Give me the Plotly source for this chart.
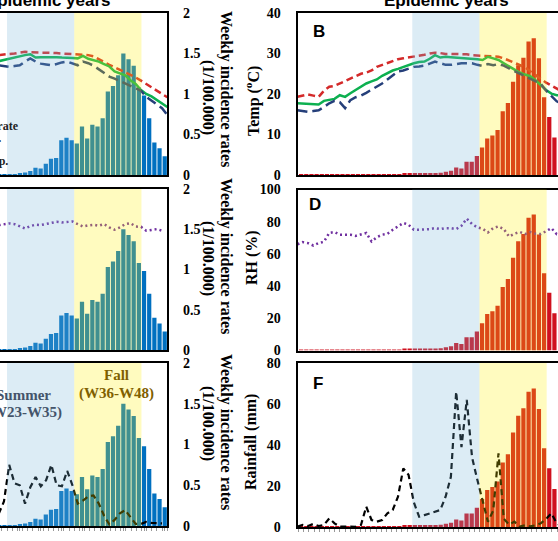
import plotly.graph_objects as go

W, H = 558, 541
SERIF = "Liberation Serif"
SANS = "Liberation Sans"

# ---------------- data ----------------
# Non-epidemic years (left column, visible weeks only)
weeks_left = list(range(21, 54))
inc_left = [0.01, 0.01, 0.01, 0.01, 0.02, 0.03, 0.05, 0.09, 0.08, 0.14, 0.20, 0.21, 0.43,
            0.46, 0.43, 0.39, 0.60, 0.45, 0.62, 0.60, 0.70, 1.03, 1.10, 1.23, 1.50, 1.43,
            1.35, 1.08, 0.98, 0.70, 0.40, 0.33, 0.23]
tmax_left = [29.6, 29.8, 29.9, 30.0, 30.2, 30.4, 30.3, 30.2, 30.2, 30.2, 30.2, 30.1, 30.0,
             29.9, 29.8, 29.7, 29.6, 29.6, 29.3, 28.5, 27.9, 27.2, 26.6, 26.0, 25.3, 24.7,
             24.1, 23.3, 22.5, 21.6, 20.8, 20.0, 19.2]
tmean_left = [28.1, 28.4, 28.8, 29.1, 29.4, 29.6, 29.8, 29.0, 29.1, 29.1, 29.2, 29.1, 29.0,
              29.0, 28.9, 28.8, 29.4, 28.7, 28.4, 28.0, 27.4, 26.8, 25.6, 25.1, 24.6, 23.4,
              22.5, 21.0, 20.0, 19.4, 18.6, 17.8, 16.8]
tmin_left = [27.1, 26.9, 26.7, 26.9, 27.1, 28.0, 28.8, 28.0, 27.5, 27.3, 27.1, 27.4, 27.8,
             28.0, 27.6, 27.1, 28.0, 27.6, 27.0, 26.1, 25.4, 24.3, 23.8, 23.2, 22.6, 22.2,
             21.6, 20.8, 19.3, 18.4, 17.6, 16.5, 14.8]
weeks_left_clim = list(range(21, 53))
rh_left = [77.5, 78.2, 78.6, 78.2, 76.7, 75.5, 77.0, 77.8, 77.6, 78.2, 79.2, 79.6, 79.2,
           79.6, 79.8, 78.2, 76.7, 77.4, 77.8, 77.2, 78.2, 76.1, 74.7, 76.1, 78.2, 78.8,
           76.7, 76.5, 74.1, 74.6, 75.1, 74.1]
rain_left = [6.0, 12.0, 30.0, 21.0, 20.0, 11.0, 19.0, 24.0, 19.5, 22.5, 30.0, 20.0, 19.5,
             27.0, 20.0, 11.0, 12.5, 14.5, 15.0, 11.0, 5.0, 0.8, 3.0, 6.2, 7.8, 4.6,
             1.0, 1.0, 2.0, 1.5, 1.3, 1.3]

# Epidemic years (right column, visible weeks only)
weeks_right_bar = list(range(1, 51))
inc_right = [0.03, 0.02, 0.03, 0.02, 0.02, 0.03, 0.02, 0.03, 0.02, 0.02, 0.03, 0.02, 0.03,
             0.02, 0.02, 0.03, 0.03, 0.02, 0.03, 0.03, 0.04, 0.04, 0.05, 0.05, 0.04, 0.06,
             0.06, 0.07, 0.10, 0.13, 0.23, 0.20, 0.41, 0.41, 0.59, 0.85, 1.13, 1.22, 1.39,
             1.97, 2.22, 2.88, 3.39, 3.62, 4.12, 4.22, 3.60, 2.40, 1.79, 1.16]
weeks_right = list(range(1, 52))
tmax_right = [19.3, 19.6, 19.9, 19.6, 19.3, 20.8, 21.8, 22.0, 22.6, 23.4, 24.0, 24.6, 25.0,
              25.3, 25.8, 26.7, 27.2, 27.7, 28.2, 28.6, 28.8, 29.0, 29.2, 29.5, 29.7, 30.0,
              30.2, 30.1, 29.9, 29.9, 29.9, 29.9, 29.8, 29.6, 29.5, 29.4, 29.4, 29.3, 29.2,
              28.8, 28.3, 27.8, 27.2, 26.6, 25.6, 24.6, 23.7, 22.8, 22.1, 21.4, 20.6]
tmean_right = [17.7, 17.6, 17.6, 17.5, 17.4, 18.3, 18.6, 18.8, 19.7, 19.3, 20.2, 21.0, 21.8,
               22.6, 23.1, 23.6, 24.5, 25.2, 25.8, 26.2, 26.7, 27.2, 27.6, 27.9, 28.0, 28.7,
               29.6, 29.0, 29.2, 29.1, 29.0, 29.0, 28.9, 28.8, 28.6, 28.4, 29.2, 28.8, 28.4,
               27.6, 26.8, 25.9, 25.3, 24.8, 24.4, 23.4, 22.2, 21.0, 20.1, 19.7, 19.7]
tmin_right = [16.0, 15.8, 15.6, 15.8, 16.0, 16.8, 17.7, 18.3, 18.0, 16.5, 18.5, 19.2, 19.6,
              20.3, 21.0, 21.8, 22.6, 23.6, 24.5, 25.6, 25.8, 26.3, 26.7, 26.8, 27.0, 27.5,
              28.0, 27.6, 27.2, 27.2, 27.4, 27.6, 27.6, 27.6, 27.2, 26.9, 27.4, 27.1, 27.4,
              27.0, 26.3, 25.7, 25.0, 24.5, 23.8, 23.3, 22.5, 20.8, 19.4, 18.2, 17.6]
rh_right = [66.0, 67.3, 66.7, 65.2, 66.7, 67.5, 73.0, 73.6, 71.9, 71.9, 71.9, 71.2, 71.9,
            73.0, 67.7, 70.4, 71.9, 72.5, 75.0, 77.1, 79.2, 78.1, 75.0, 75.0, 75.0, 75.4,
            76.0, 75.4, 76.0, 76.0, 75.4, 77.5, 81.9, 78.5, 76.5, 75.6, 73.3, 76.0, 77.1,
            75.4, 70.8, 72.5, 73.6, 72.3, 73.6, 72.5, 72.3, 74.4, 76.0, 72.3, 73.0]
rain_right = [0.2, 1.0, 0.5, 1.5, 0.5, 1.0, 4.2, 1.8, 0.2, 0.2, 0.2, 0.1, 1.0, 9.9, 3.4,
              2.6, 3.4, 6.7, 8.3, 14.8, 28.6, 25.4, 12.0, 5.0, 5.8, 6.7, 7.5, 8.3, 14.8,
              24.5, 66.0, 39.0, 62.0, 34.0, 23.0, 12.0, 2.6, 8.0, 35.9, 4.0, 1.2, 2.6, 0.2,
              0.8, 0.3, 0.8, 1.8, 4.0, 6.7, 1.8, 0.5]

summer_weeks = (22.5, 35.5)
fall_weeks = (35.5, 48.5)
left_tick_weeks = [25, 29, 33, 37, 41, 45, 49, 53]
left_tick_labels = ["25", "29", "33", "37", "41", "45", "49", "53"]

# ---------------- styling ----------------
BAR_BLUE = "#0070C0"
BAR_RED = "#D0101E"
C_MAX = "#D42A2A"
C_MEAN = "#0DB050"
C_MIN = "#253F7A"
C_RH = "#7030A0"
C_RAIN = "#000000"
SUMMER_FILL = "rgba(115,179,215,0.25)"
FALL_FILL = "rgba(255,240,0,0.25)"

LEFT_BAR_RANGE = [21.14, 53.5]
LEFT_LINE_RANGE = [21.25, 53.0]
RIGHT_BAR_RANGE = [0.3, 50.69]
RIGHT_LINE_RANGE = [1.0, 50.25]


def dom_x(p0, p1):
    return [max(0.0, p0 / W), min(1.0, p1 / W)]


def dom_y(top, bot):
    return [1 - bot / H, 1 - top / H]


def aid(letter, n):
    return letter if n == 1 else f"{letter}{n}"


max_line = dict(color=C_MAX, width=2.5, dash="7px,4px")
mean_line = dict(color=C_MEAN, width=2.5)
min_line = dict(color=C_MIN, width=2.5, dash="10px,5px")
rh_line = dict(color=C_RH, width=2.5, dash="2px,3px")
rain_line = dict(color=C_RAIN, width=2.2, dash="6px,4px")

panels = [
    dict(side="L", xpx=(0, 167.3), ypx=(13, 175), bars=(weeks_left, inc_left), bcol=BAR_BLUE,
         lines=[(weeks_left, tmax_left, max_line), (weeks_left, tmean_left, mean_line),
                (weeks_left, tmin_left, min_line)], ylr=[0, 40], bottom="none"),
    dict(side="R", xpx=(297.5, 558), ypx=(13, 175), bars=(weeks_right_bar, inc_right), bcol=BAR_RED,
         lines=[(weeks_right, tmax_right, max_line), (weeks_right, tmean_right, mean_line),
                (weeks_right, tmin_right, min_line)], ylr=[0, 40], ydt=10, bottom="none"),
    dict(side="L", xpx=(0, 167.3), ypx=(189, 350), bars=(weeks_left, inc_left), bcol=BAR_BLUE,
         lines=[(weeks_left_clim, rh_left, rh_line)], ylr=[0, 100], bottom="none"),
    dict(side="R", xpx=(297.5, 558), ypx=(189.5, 350.5), bars=(weeks_right_bar, inc_right), bcol=BAR_RED,
         lines=[(weeks_right, rh_right, rh_line)], ylr=[0, 100], ydt=20, bottom="none"),
    dict(side="L", xpx=(0, 167.3), ypx=(363, 526), bars=(weeks_left, inc_left), bcol=BAR_BLUE,
         lines=[(weeks_left_clim, rain_left, rain_line)], ylr=[0, 80], bottom="labels"),
    dict(side="R", xpx=(297.5, 558), ypx=(363, 527), bars=(weeks_right_bar, inc_right), bcol=BAR_RED,
         lines=[(weeks_right, rain_right, rain_line)], ylr=[0, 80], ydt=20, bottom="ticks"),
]

fig = go.Figure()
layout = {}
shapes = []
tickfont = dict(family=SERIF, size=14, color="black", weight="bold")

for i, p in enumerate(panels):
    nb = 2 * i + 1
    nl = 2 * i + 2
    xb, xl = aid("x", nb), aid("x", nl)
    yb, yl = aid("y", nb), aid("y", nl)
    kxb = "xaxis" if nb == 1 else f"xaxis{nb}"
    kyb = "yaxis" if nb == 1 else f"yaxis{nb}"
    kxl, kyl = f"xaxis{nl}", f"yaxis{nl}"
    xd = dom_x(*p["xpx"])
    yd = dom_y(*p["ypx"])
    left = p["side"] == "L"

    fig.add_trace(go.Bar(x=p["bars"][0], y=p["bars"][1], xaxis=xb, yaxis=yb,
                         marker=dict(color=p["bcol"], line=dict(width=0)), showlegend=False))
    for lx, ly, lstyle in p["lines"]:
        fig.add_trace(go.Scatter(x=lx, y=ly, xaxis=xl, yaxis=yl, mode="lines",
                                 line=lstyle, showlegend=False))

    xa = dict(domain=xd, range=LEFT_BAR_RANGE if left else RIGHT_BAR_RANGE, anchor=yb,
              showline=True, mirror=True, linecolor="black", linewidth=2, automargin=False,
              showgrid=False, zeroline=False, showticklabels=False, ticks="", fixedrange=True)
    if p["bottom"] == "labels":
        xa.update(tickmode="array", tickvals=left_tick_weeks, ticktext=left_tick_labels,
                  showticklabels=True, ticks="outside", ticklen=3, tickcolor="#999999",
                  tickfont=tickfont, ticklabelstandoff=7,
                  minor=dict(tickmode="linear", tick0=0.5, dtick=1, ticks="outside",
                             ticklen=3, tickcolor="#999999"))
    elif p["bottom"] == "ticks":
        xa.update(tickmode="linear", tick0=0.5, dtick=1, ticks="outside", ticklen=3,
                  tickcolor="#999999")
    layout[kxb] = xa
    layout[kxl] = dict(domain=xd, range=LEFT_LINE_RANGE if left else RIGHT_LINE_RANGE,
                       anchor=yl, overlaying=xb, visible=False, fixedrange=True,
                       automargin=False)

    if left:
        layout[kyb] = dict(domain=yd, range=[0, 2], anchor=xb, side="right",
                           showline=True, linecolor="black", linewidth=2,
                           showgrid=False, zeroline=False, tickmode="array",
                           tickvals=[0, 0.5, 1, 1.5, 2],
                           ticktext=["0", "0.5", "1", "1.5", "2"],
                           tickfont=tickfont, ticks="", ticklabelstandoff=11,
                           fixedrange=True, automargin=False)
        layout[kyl] = dict(domain=yd, range=p["ylr"], anchor=xl, overlaying=yb,
                           visible=False, fixedrange=True, automargin=False)
    else:
        layout[kyb] = dict(domain=yd, range=[0, 5], anchor=xb, visible=False,
                           fixedrange=True, automargin=False)
        layout[kyl] = dict(domain=yd, range=p["ylr"], anchor=xl, overlaying=yb,
                           side="left", showline=True, linecolor="black", linewidth=2,
                           showgrid=False, zeroline=False, tickmode="linear",
                           tick0=0, dtick=p["ydt"], tickfont=tickfont, ticks="",
                           ticklabelstandoff=12, fixedrange=True, automargin=False)

    for (a, b), col in ((summer_weeks, SUMMER_FILL), (fall_weeks, FALL_FILL)):
        shapes.append(dict(type="rect", xref=xb, yref=f"{yb} domain", x0=a, x1=b, y0=0, y1=1,
                           fillcolor=col, line=dict(width=0), layer="above"))

annotations = []


def ann(text, xp, yp, size, family, xanchor="center", yanchor="middle", angle=0,
        color="black"):
    annotations.append(dict(text=text, x=xp / W, y=1 - yp / H, xref="paper", yref="paper",
                            showarrow=False, xanchor=xanchor, yanchor=yanchor,
                            textangle=angle,
                            font=dict(size=size, family=family, color=color, weight="bold")))


# column titles (cropped at the top edge, as in the reference)
ann("Non-epidemic years", 113, 0, 17, SANS, xanchor="right")
ann("Epidemic years", 446, 0, 17, SANS)
# panel letters
ann("B", 310.5, 31.5, 17, SANS, xanchor="left")
ann("D", 306.5, 204.5, 17, SANS, xanchor="left")
ann("F", 310.5, 383, 17, SANS, xanchor="left")
# incidence axis titles (right side of left panels)
for yc, yc2 in ((89, 97), (256, 258), (432, 423)):
    ann("Weekly incidence rates", 226, yc, 16, SERIF, angle=90)
    ann("(1/100.000)", 208, yc2, 16, SERIF, angle=90)
# climate axis titles (left side of right panels)
ann("Temp (<sup>o</sup>C)", 252, 101, 16, SERIF, angle=-90)
ann("RH (%)", 252, 258, 16, SERIF, angle=-90)
ann("Rainfall (mm)", 251, 442, 16, SERIF, angle=-90)
# season labels
ann("Summer", 23, 395, 15, SERIF, color="#44546A")
ann("(W23-W35)", 24, 412, 15, SERIF, color="#44546A")
ann("Fall", 116, 375, 15, SERIF, color="#7F6000")
ann("(W36-W48)", 116, 393, 15, SERIF, color="#7F6000")
# legend fragments (cropped)
ann("Incidence rate", 21, 126, 12, SERIF, xanchor="right", color="#222222")
ann("Max temp.", 3, 138, 12, SERIF, xanchor="right", color="#222222")
ann("Min temp.", 10, 161, 12, SERIF, xanchor="right", color="#222222")

fig.update_layout(
    width=W, height=H, margin=dict(l=0, r=0, t=0, b=0, autoexpand=False),
    paper_bgcolor="white", plot_bgcolor="white",
    bargap=0.18, showlegend=False,
    shapes=shapes, annotations=annotations,
    **layout,
)

fig.write_html("out.html")
